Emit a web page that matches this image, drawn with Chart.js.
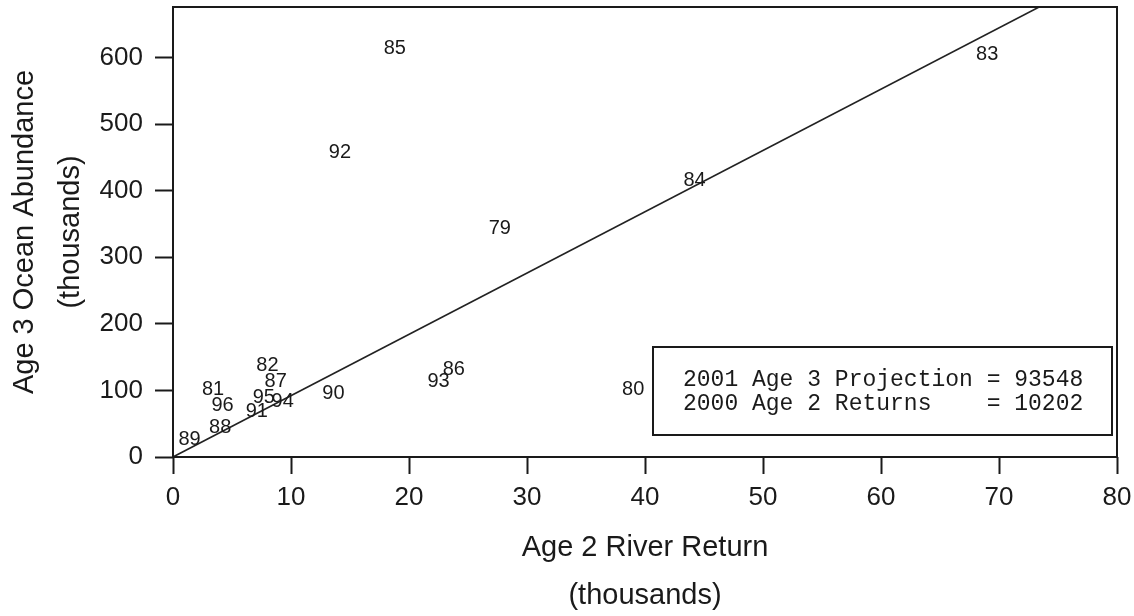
<!DOCTYPE html>
<html>
<head>
<meta charset="utf-8">
<script src="https://cdn.jsdelivr.net/npm/chart.js@4.4.1/dist/chart.umd.min.js"></script>
<style>
  html, body { margin: 0; padding: 0; background: #fff; }
  #wrap { width: 1134px; height: 616px; }
</style>
</head>
<body>
<div id="wrap"><canvas id="chart"></canvas></div>
<script>
// brood years, labelled at (age 2 river return, age 3 ocean abundance), thousands
const years = ['79', '80', '81', '82', '83', '84', '85', '86', '87', '88', '89', '90', '91', '92', '93', '94', '95', '96'];
const riverReturn = [27.7, 39.0, 3.4, 8.0, 69.0, 44.2, 18.8, 23.8, 8.7, 4.0, 1.4, 13.6, 7.1, 14.15, 22.5, 9.3, 7.7, 4.2];
const oceanAbundance = [343, 102, 102, 138, 604, 415, 613, 132, 114, 45, 26, 96, 69, 457, 114, 84, 90, 77];

// fitted line through the origin (end points)
const fitX = [0, 73.4];
const fitY = [0, 676];

const xTicks = [0, 10, 20, 30, 40, 50, 60, 70, 80];
const yTicks = [0, 100, 200, 300, 400, 500, 600];

const legendLines = [
    '2001 Age 3 Projection = 93548',
    '2000 Age 2 Returns    = 10202'
];

const xTitle = ['Age 2 River Return', '(thousands)'];
const yTitle = ['Age 3 Ocean Abundance', '(thousands)'];

const ink = '#1a1a1a';
const tickFont = { family: "'Liberation Sans Narrow', 'Arial Narrow', 'Liberation Sans', sans-serif", size: 26 };

// no extra room for half labels at the axis ends
const noPad = s => { s.paddingTop = 0; s.paddingBottom = 0; s.paddingLeft = 0; s.paddingRight = 0; };

// year labels drawn at each point
const yearLabels = {
    id: 'yearLabels',
    afterDatasetsDraw(chart) {
        const { ctx, scales: { x, y } } = chart;
        ctx.save();
        ctx.font = "20px 'Liberation Sans', Arial, sans-serif";
        ctx.fillStyle = ink;
        ctx.textAlign = 'center';
        ctx.textBaseline = 'middle';
        years.forEach((yr, i) => {
            ctx.fillText(yr, x.getPixelForValue(riverReturn[i]), y.getPixelForValue(oceanAbundance[i]));
        });
        ctx.restore();
    }
};

// frame, projection box and axis titles
const frame = {
    id: 'frame',
    afterDraw(chart) {
        const { ctx, chartArea: a } = chart;
        ctx.save();
        ctx.strokeStyle = ink;
        ctx.lineWidth = 2;
        ctx.strokeRect(a.left, a.top, a.right - a.left, a.bottom - a.top);

        // projection box
        const bw = 459, bh = 88;
        const bx = a.right - 5 - bw, by = a.bottom - 22 - bh;
        ctx.fillStyle = '#fff';
        ctx.fillRect(bx, by, bw, bh);
        ctx.strokeRect(bx, by, bw, bh);
        ctx.fillStyle = ink;
        ctx.font = "23px 'Liberation Mono', 'DejaVu Sans Mono', monospace";
        ctx.textAlign = 'left';
        ctx.textBaseline = 'middle';
        legendLines.forEach((t, i) => ctx.fillText(t, bx + 30, by + 33 + i * 24));

        // axis titles
        ctx.font = "29px 'Liberation Sans', Arial, sans-serif";
        ctx.textAlign = 'center';
        const cx = (a.left + a.right) / 2;
        ctx.fillText(xTitle[0], cx, chart.height - 68);
        ctx.fillText(xTitle[1], cx, chart.height - 20);

        const cy = (a.top + a.bottom) / 2;
        ctx.translate(25, cy);
        ctx.rotate(-Math.PI / 2);
        ctx.fillText(yTitle[0], 0, 0);
        ctx.fillText(yTitle[1], 0, 46);
        ctx.restore();
    }
};

new Chart(document.getElementById('chart'), {
    type: 'scatter',
    data: {
        datasets: [
            {
                label: 'years',
                data: riverReturn.map((v, i) => ({ x: v, y: oceanAbundance[i] })),
                pointRadius: 0,
                showLine: false
            },
            {
                label: 'fit',
                data: fitX.map((v, i) => ({ x: v, y: fitY[i] })),
                showLine: true,
                pointRadius: 0,
                borderColor: '#222',
                borderWidth: 1.6
            }
        ]
    },
    options: {
        responsive: true,
        maintainAspectRatio: false,
        animation: false,
        layout: { padding: { top: 7, right: 17, left: 0, bottom: 0 } },
        plugins: { legend: { display: false }, tooltip: { enabled: false } },
        scales: {
            x: {
                type: 'linear',
                min: 0,
                max: 80,
                afterBuildTicks: s => { s.ticks = xTicks.map(v => ({ value: v })); },
                afterFit: s => { s.height = 159; noPad(s); },
                grid: { drawOnChartArea: false, drawTicks: true, tickLength: 17, tickColor: ink, tickWidth: 2 },
                border: { display: false },
                ticks: { color: ink, font: tickFont, padding: 8, maxRotation: 0 }
            },
            y: {
                type: 'linear',
                min: 0,
                max: 676,
                afterBuildTicks: s => { s.ticks = yTicks.map(v => ({ value: v })); },
                afterFit: s => { s.width = 173; noPad(s); },
                grid: { drawOnChartArea: false, drawTicks: true, tickLength: 18, tickColor: ink, tickWidth: 2 },
                border: { display: false },
                ticks: { color: ink, font: tickFont, padding: 12 }
            }
        }
    },
    plugins: [yearLabels, frame]
});
</script>
</body>
</html>
